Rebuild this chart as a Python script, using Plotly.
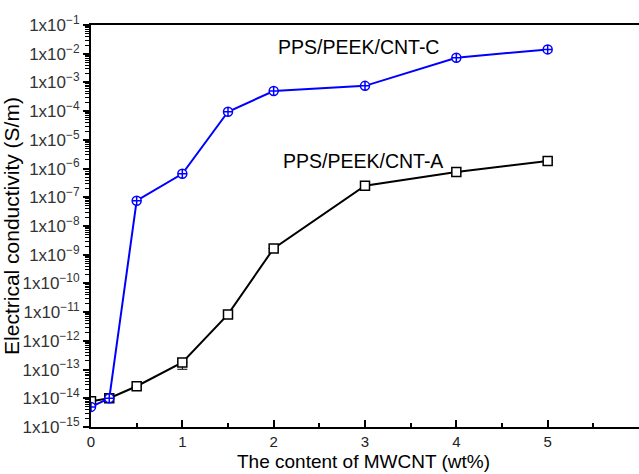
import plotly.graph_objects as go

x_c = [0, 0.2, 0.5, 1, 1.5, 2, 3, 4, 5]
exp_c = [-14.3, -14.0, -7.12, -6.18, -4.02, -3.3, -3.12, -2.14, -1.85]
x_a = [0, 0.2, 0.5, 1, 1.5, 2, 3, 4, 5]
exp_a = [-14.1, -14.0, -13.58, -12.75, -11.08, -8.78, -6.6, -6.12, -5.74]
err_a_minus_exp = [0, 0, 0, -12.99, 0, 0, 0, 0, 0]

y_c = [10 ** e for e in exp_c]
y_a = [10 ** e for e in exp_a]
err_a_minus = [(10 ** ea - 10 ** em) if em != 0 else 0 for ea, em in zip(exp_a, err_a_minus_exp)]

tick_exps = list(range(-15, 0))
tick_vals = [10 ** e for e in tick_exps]
tick_text = ["1x10<sup>\u2212%d</sup>" % (-e) for e in tick_exps]

FONT = "Liberation Sans, Arial"

fig = go.Figure()
fig.add_trace(go.Scatter(
    x=x_a, y=y_a, mode="lines+markers",
    line=dict(color="black", width=2),
    marker=dict(symbol="square", size=9, color="white", line=dict(width=1.5, color="black")),
    error_y=dict(type="data", symmetric=False, array=[0] * len(x_a), arrayminus=err_a_minus,
                 color="black", thickness=1, width=5),
    showlegend=False,
))
fig.add_trace(go.Scatter(
    x=x_c, y=y_c, mode="lines+markers",
    line=dict(color="#0000ff", width=2),
    marker=dict(symbol="circle-cross", size=9, color="white", line=dict(width=1.5, color="#0000ff")),
    showlegend=False,
))

fig.add_annotation(x=2.93, y=-1.76, text="PPS/PEEK/CNT-C", showarrow=False,
                   font=dict(size=19.5, color="black", family=FONT))
fig.add_annotation(x=2.98, y=-5.74, text="PPS/PEEK/CNT-A", showarrow=False,
                   font=dict(size=19.5, color="black", family=FONT))
fig.add_annotation(x=0.498, y=-0.116, xref="paper", yref="paper", yanchor="bottom",
                   text="The content of MWCNT (wt%)", showarrow=False,
                   font=dict(size=19, color="black", family=FONT))

fig.update_layout(
    width=639, height=474,
    margin=dict(l=91, r=0, t=25, b=47),
    plot_bgcolor="white", paper_bgcolor="white",
    font=dict(family=FONT, color="black"),
)
fig.update_xaxes(
    range=[0, 6], tickvals=[0, 1, 2, 3, 4, 5, 6], ticktext=["0", "1", "2", "3", "4", "5", "6"],
    showline=True, linecolor="black", linewidth=2, mirror=True,
    ticks="inside", ticklen=7, tickwidth=2, tickcolor="black",
    minor=dict(ticks="inside", ticklen=4, tickwidth=2, dtick=0.5, tickcolor="black"),
    showgrid=False, zeroline=False,
    tickfont=dict(size=15, color="#222"),
)
fig.update_yaxes(
    type="log", range=[-15, -1], tickvals=tick_vals, ticktext=tick_text,
    showline=True, linecolor="black", linewidth=2,
    ticks="outside", ticklen=6, tickwidth=2, tickcolor="black",
    minor=dict(ticks="outside", ticklen=4, tickwidth=1, tickcolor="black", dtick="D1"),
    showgrid=False, zeroline=False,
    tickfont=dict(size=17, color="#333"),
    title=dict(text="Electrical conductivity (S/m)", font=dict(size=21, color="black"), standoff=0),
)

fig.write_html("out.html")
